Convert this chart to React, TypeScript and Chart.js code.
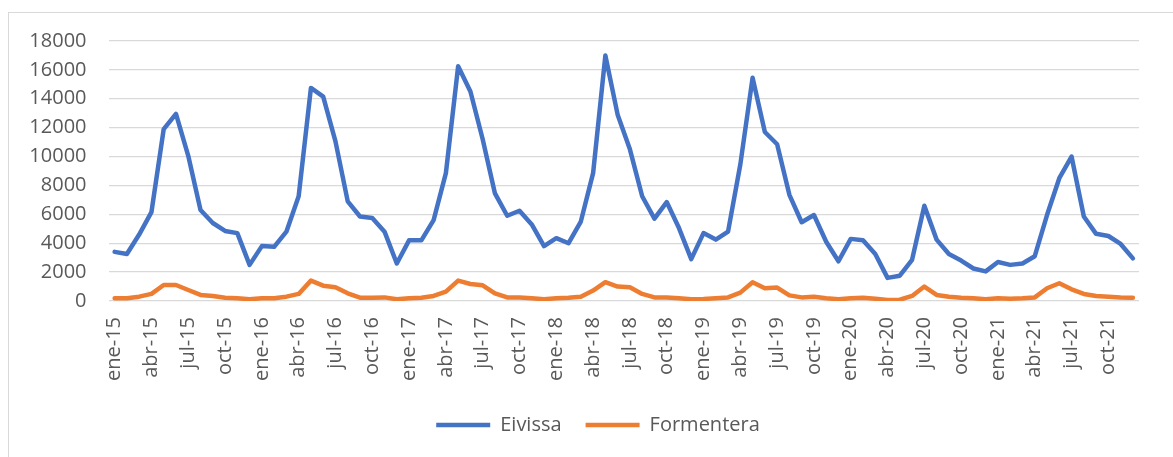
import { useEffect, useRef } from "react";
import { Chart, registerables } from "chart.js";

Chart.register(...registerables);

const months = ["ene", "feb", "mar", "abr", "may", "jun", "jul", "ago", "sep", "oct", "nov", "dic"];
const years = ["15", "16", "17", "18", "19", "20", "21"];
const categories: string[] = years.flatMap((y) => months.map((m) => `${m}-${y}`));

const eivissa = [
  3400, 3250, 4600, 6150, 11900, 12950, 10050, 6300, 5400, 4850, 4700, 2500,
  3800, 3750, 4800, 7250, 14750, 14150, 11050, 6900, 5850, 5750, 4800, 2600,
  4200, 4200, 5600, 8850, 16250, 14500, 11200, 7450, 5900, 6250, 5300, 3800,
  4350, 4000, 5500, 8850, 17000, 12900, 10500, 7250, 5700, 6850, 5050, 2900,
  4700, 4250, 4800, 9450, 15450, 11700, 10850, 7350, 5450, 5950, 4100, 2750,
  4300, 4200, 3250, 1600, 1750, 2850, 6600, 4250, 3250, 2800, 2250, 2050,
  2700, 2500, 2600, 3100, 5950, 8500, 10000, 5850, 4650, 4500, 3950, 2950,
];

const formentera = [
  190, 190, 300, 490, 1110, 1110, 760, 420, 350, 230, 190, 120,
  190, 190, 300, 490, 1410, 1060, 950, 530, 230, 230, 250, 120,
  190, 230, 350, 650, 1410, 1180, 1090, 530, 250, 250, 190, 120,
  190, 230, 300, 720, 1300, 1000, 950, 490, 250, 250, 190, 120,
  140, 190, 250, 580, 1300, 880, 930, 390, 250, 300, 190, 120,
  190, 230, 160, 70, 90, 350, 1000, 420, 300, 230, 190, 120,
  190, 160, 190, 250, 880, 1230, 810, 490, 350, 300, 250, 230,
];

const yMin = 0;
const yMax = 18000;
const yStep = 2000;

const FONT = "'Open Sans', 'DejaVu Sans', sans-serif";
const TEXT = "#595959";

const legendShift = {
  id: "legendShift",
  afterLayout(chart: any) {
    const l = chart.legend;
    if (l) {
      l.left += 15;
      l.right += 15;
    }
  },
};

export default function App() {
  const ref = useRef<HTMLCanvasElement | null>(null);

  useEffect(() => {
    if (!ref.current) return;
    const chart = new Chart(ref.current, {
      type: "line",
      data: {
        labels: categories,
        datasets: [
          {
            label: "Eivissa",
            data: eivissa,
            borderColor: "#4472C4",
            backgroundColor: "#4472C4",
            borderWidth: 4.5,
            pointRadius: 0,
            borderCapStyle: "round",
            borderJoinStyle: "round",
            tension: 0,
          },
          {
            label: "Formentera",
            data: formentera,
            borderColor: "#ED7D31",
            backgroundColor: "#ED7D31",
            borderWidth: 4.5,
            pointRadius: 0,
            borderCapStyle: "round",
            borderJoinStyle: "round",
            tension: 0,
          },
        ],
      },
      options: {
        responsive: false,
        animation: false,
        layout: { padding: { top: 28, right: 16, bottom: 12, left: 0 } },
        plugins: {
          tooltip: { enabled: false },
          legend: {
            position: "bottom",
            labels: {
              usePointStyle: true,
              pointStyle: "line",
              pointStyleWidth: 54,
              padding: 24,
              color: TEXT,
              font: { family: FONT, size: 20 },
            },
          },
        },
        scales: {
          x: {
            offset: true,
            grid: { display: false, drawTicks: false },
            border: { display: false },
            afterFit: (s: any) => {
              s.height = 90;
            },
            ticks: {
              autoSkip: false,
              minRotation: 90,
              maxRotation: 90,
              padding: 16,
              color: TEXT,
              font: { family: FONT, size: 20 },
              callback: (_v: any, i: number) => (i % 3 === 0 ? categories[i] : ""),
            },
          },
          y: {
            min: yMin,
            max: yMax,
            grid: { color: "#D9D9D9", lineWidth: 1.3, drawTicks: false },
            border: { display: false },
            afterFit: (s: any) => {
              s.width = 99.5;
              s.paddingTop = 0;
              s.paddingBottom = 0;
            },
            ticks: {
              stepSize: yStep,
              padding: 22,
              color: TEXT,
              font: { family: FONT, size: 20 },
              callback: (v: any) => String(v),
            },
          },
        },
      },
      plugins: [legendShift],
    });
    return () => chart.destroy();
  }, []);

  return (
    <div
      style={{
        position: "fixed",
        left: 8,
        top: 12,
        width: 1165,
        height: 445,
        borderTop: "1px solid #D9D9D9",
        borderLeft: "1px solid #D9D9D9",
        background: "#fff",
      }}
    >
      <canvas ref={ref} width={1164} height={444} style={{ display: "block" }} />
    </div>
  );
}
